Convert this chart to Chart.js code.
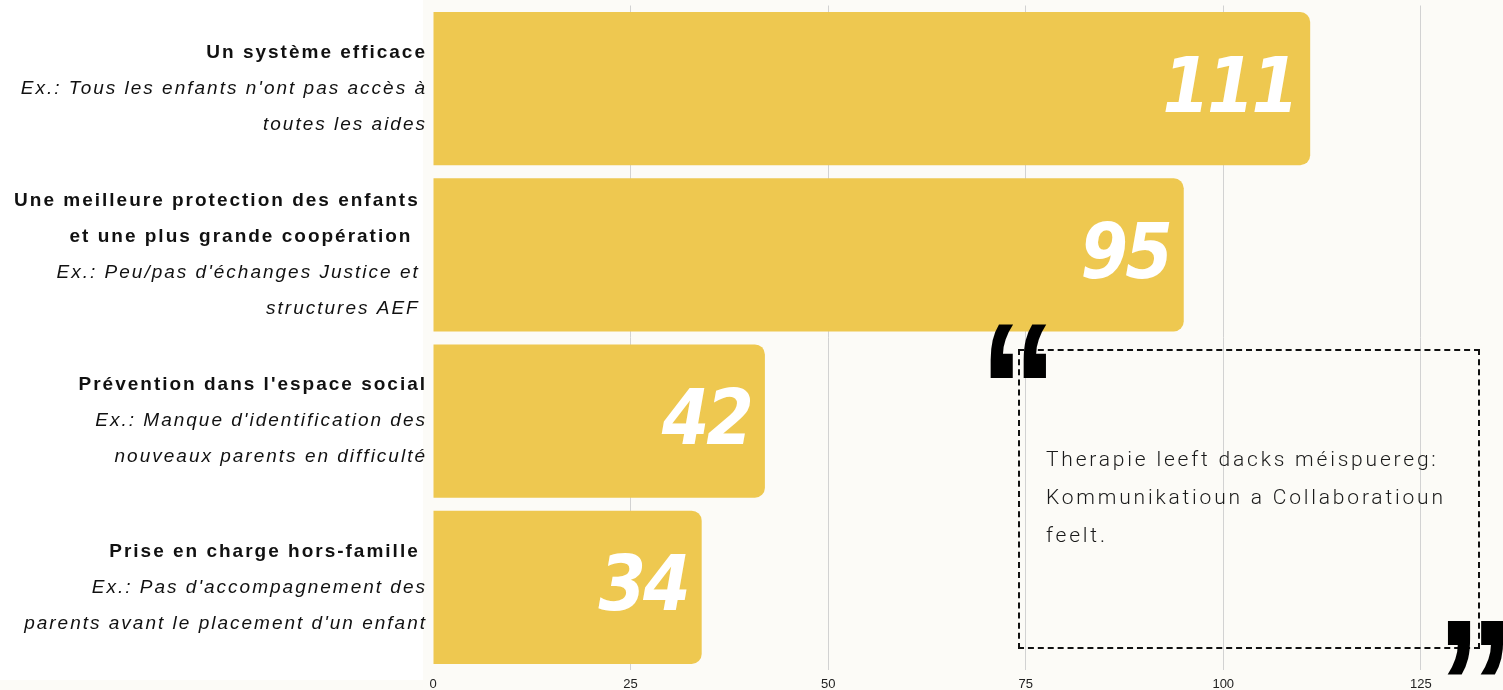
<!DOCTYPE html>
<html>
<head>
<meta charset="utf-8">
<script src="https://cdn.jsdelivr.net/npm/chart.js@4/dist/chart.umd.min.js"></script>
<style>
  html, body { margin: 0; padding: 0; }
  body { width: 1503px; height: 690px; background: #fcfbf7; position: relative; overflow: hidden; }
  .side { position: absolute; left: 0; top: 0; width: 423px; height: 680px; background: #ffffff; }
  .wrap { position: absolute; left: 0; top: 0; width: 1503px; height: 690px; }
  .quote-box {
    position: absolute; left: 1018px; top: 349px; width: 458px; height: 296px;
    border: 2px dashed #111;
  }
  .quote-text {
    position: absolute; left: 1046px; top: 440px; width: 440px;
    font-family: Roboto, "Open Sans", sans-serif; font-weight: 300; font-size: 21px;
    letter-spacing: 2.8px; line-height: 38px; color: #1a1a1a; white-space: nowrap;
  }
  .qmark {
    position: absolute; font-family: "Liberation Sans", Arial, sans-serif; font-weight: bold;
    font-size: 158px; line-height: 1; color: #000;
    transform: scaleY(1.2); transform-origin: 0 0;
  }
  .qopen { left: 979px; top: 294px; }
  .qclose { left: 1436px; top: 590px; }
</style>
</head>
<body>
<div class="side"></div>
<div class="wrap"><canvas id="chart"></canvas></div>
<div class="quote-box"></div>
<div class="qmark qopen">&ldquo;</div>
<div class="qmark qclose">&rdquo;</div>
<div class="quote-text">Therapie leeft dacks méispuereg:<br>Kommunikatioun a Collaboratioun<br>feelt.</div>
<script>
/* ---------- données ---------- */
const titres = [
  ["Un système efficace"],
  ["Une meilleure protection des enfants ", "et une plus grande coopération  "],
  ["Prévention dans l'espace social"],
  ["Prise en charge hors-famille "],
];
const exemples = [
  ["Ex.: Tous les enfants n'ont pas accès à", "toutes les aides"],
  ["Ex.: Peu/pas d'échanges Justice et ", "structures AEF "],
  ["Ex.: Manque d'identification des", "nouveaux parents en difficulté"],
  ["Ex.: Pas d'accompagnement des", "parents avant le placement d'un enfant"],
];
const valeurs = [111, 95, 42, 34];
const ticksX = [0, 25, 50, 75, 100, 125];

const COLORS = {
  bar: "#eec850",
  grid: "#d2d2d2",
  ink: "#111111",
  tick: "#222222",
};

/* ---------- libellés à gauche (titre gras + exemple italique) ---------- */
const labelsPlugin = {
  id: "labelsGauche",
  afterDraw(chart) {
    const ctx = chart.ctx;
    const y = chart.scales.y;
    const right = 427;
    const lh = 36;
    ctx.save();
    ctx.fillStyle = COLORS.ink;
    ctx.textAlign = "right";
    ctx.textBaseline = "middle";
    ctx.letterSpacing = "2px";
    titres.forEach((t, i) => {
      const lines = t.map((s) => ({ s, bold: true })).concat(exemples[i].map((s) => ({ s, bold: false })));
      const cy = y.getPixelForValue(i);
      const top = cy - ((lines.length - 1) * lh) / 2;
      lines.forEach((l, k) => {
        ctx.font = (l.bold ? "bold " : "italic ") + "19px 'Liberation Sans', Arial, sans-serif";
        ctx.fillText(l.s, right, top + k * lh);
      });
    });
    ctx.restore();
  },
};

/* ---------- valeurs dans les barres ---------- */
const valeursPlugin = {
  id: "valeursBarres",
  afterDatasetsDraw(chart) {
    const ctx = chart.ctx;
    const meta = chart.getDatasetMeta(0);
    ctx.save();
    ctx.fillStyle = "#ffffff";
    ctx.textAlign = "right";
    ctx.textBaseline = "alphabetic";
    ctx.font = "italic bold 76px 'DejaVu Sans Condensed', 'Liberation Sans Narrow', sans-serif";
    ctx.letterSpacing = "-3px";
    meta.data.forEach((bar, i) => {
      ctx.fillText(String(valeurs[i]), bar.x - 14, bar.y + 23);
    });
    ctx.restore();
  },
};

new Chart(document.getElementById("chart"), {
  type: "bar",
  data: {
    labels: titres.map((t) => t.join(" ")),
    datasets: [
      {
        data: valeurs,
        backgroundColor: COLORS.bar,
        borderRadius: 10,
        borderSkipped: "start",
        barPercentage: 0.922,
        categoryPercentage: 1,
      },
    ],
  },
  options: {
    indexAxis: "y",
    responsive: true,
    maintainAspectRatio: false,
    animation: false,
    layout: { padding: { left: 433, top: 5.5, right: 0, bottom: -8 } },
    plugins: { legend: { display: false }, tooltip: { enabled: false } },
    scales: {
      x: {
        min: 0,
        max: 135.4,
        afterBuildTicks: (axis) => {
          axis.ticks = ticksX.map((v) => ({ value: v }));
        },
        grid: { color: (c) => (c.tick && c.tick.value === 0 ? "rgba(0,0,0,0)" : COLORS.grid), drawTicks: false, lineWidth: 1 },
        border: { display: false },
        ticks: { color: COLORS.tick, font: { size: 13, family: "'Liberation Sans', Arial, sans-serif" }, padding: 6, maxRotation: 0 },
      },
      y: {
        display: false,
      },
    },
  },
  plugins: [labelsPlugin, valeursPlugin],
});
</script>
</body>
</html>
